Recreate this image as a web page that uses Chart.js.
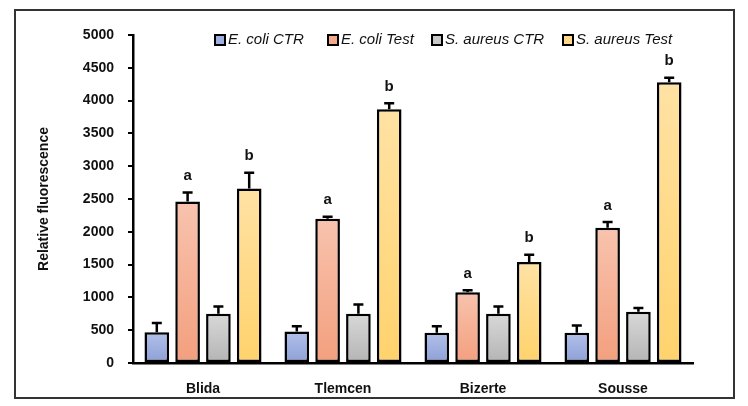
<!DOCTYPE html>
<html>
<head>
<meta charset="utf-8">
<script src="https://cdn.jsdelivr.net/npm/chart.js@4.4.1/dist/chart.umd.min.js"></script>
<style>
  html, body { margin: 0; padding: 0; background: #fff; }
  #wrap { width: 748px; height: 406px; position: relative; }
</style>
</head>
<body>
<div id="wrap"><canvas id="chart"></canvas></div>
<script>
// data
const categories = ['Blida', 'Tlemcen', 'Bizerte', 'Sousse'];
const ecoliCtr = [470, 480, 460, 460];
const ecoliTest = [2460, 2200, 1080, 2060];
const saureusCtr = [750, 750, 750, 780];
const saureusTest = [2660, 3870, 1540, 4280];
const ecoliCtrErr = [140, 80, 100, 110];
const ecoliTestErr = [140, 30, 30, 90];
const saureusCtrErr = [110, 140, 110, 60];
const saureusTestErr = [240, 90, 110, 70];
const yTicks = [0, 500, 1000, 1500, 2000, 2500, 3000, 3500, 4000, 4500, 5000];

const FONT = "'Liberation Sans', Arial, sans-serif";

// per-bar vertical gradient, light at the top
function barGradient(top, bottom) {
    return function (ctx) {
        const chart = ctx.chart;
        const ys = chart.scales.y;
        if (!ys || ctx.type !== 'data') return bottom;
        const y0 = ys.getPixelForValue(0);
        const y1 = ys.getPixelForValue(ctx.raw);
        if (!isFinite(y0) || !isFinite(y1) || y0 === y1) return bottom;
        const g = chart.ctx.createLinearGradient(0, y1, 0, y0);
        g.addColorStop(0, top);
        g.addColorStop(1, bottom);
        return g;
    };
}

const errorBars = {
    id: 'errorBars',
    afterDatasetsDraw(chart) {
        const ctx = chart.ctx;
        const ys = chart.scales.y;
        chart.data.datasets.forEach((ds, i) => {
            const meta = chart.getDatasetMeta(i);
            meta.data.forEach((bar, j) => {
                const top = ys.getPixelForValue(ds.data[j] + ds.errors[j]);
                ctx.save();
                ctx.strokeStyle = '#000';
                ctx.lineWidth = 2.5;
                ctx.beginPath();
                ctx.moveTo(bar.x, bar.y);
                ctx.lineTo(bar.x, top);
                ctx.moveTo(bar.x - 5, top);
                ctx.lineTo(bar.x + 5, top);
                ctx.stroke();
                if (ds.letter) {
                    ctx.fillStyle = '#111';
                    ctx.font = 'bold 15px ' + FONT;
                    ctx.textAlign = 'center';
                    ctx.textBaseline = 'bottom';
                    ctx.fillText(ds.letter, bar.x, top - 9);
                }
                ctx.restore();
            });
        });
    }
};

const legendInside = {
    id: 'legendInside',
    afterDraw(chart) {
        const ctx = chart.ctx;
        const starts = [215, 328, 432, 563];
        ctx.save();
        ctx.font = 'italic 15px ' + FONT;
        ctx.textBaseline = 'middle';
        chart.data.datasets.forEach((ds, i) => {
            const x = starts[i];
            const y = 40;
            ctx.fillStyle = ds.legendColor;
            ctx.fillRect(x, y - 5, 10, 10);
            ctx.strokeStyle = '#000';
            ctx.lineWidth = 2;
            ctx.strokeRect(x, y - 5, 10, 10);
            ctx.fillStyle = '#111';
            ctx.fillText(ds.label, x + 13, y);
        });
        ctx.restore();
    }
};

const frame = {
    id: 'frame',
    afterDraw(chart) {
        const ctx = chart.ctx;
        ctx.save();
        ctx.strokeStyle = '#333';
        ctx.lineWidth = 2;
        ctx.strokeRect(15, 10, 719, 388);
        ctx.restore();
    }
};

new Chart(document.getElementById('chart'), {
    type: 'bar',
    data: {
        labels: categories,
        datasets: [
            {
                label: 'E. coli CTR',
                data: ecoliCtr,
                errors: ecoliCtrErr,
                legendColor: '#9fb0e0',
                backgroundColor: barGradient('#b2c0ea', '#8c9fd6')
            },
            {
                label: 'E. coli Test',
                data: ecoliTest,
                errors: ecoliTestErr,
                letter: 'a',
                legendColor: '#f5a88a',
                backgroundColor: barGradient('#f8c3ae', '#f39f7e')
            },
            {
                label: 'S. aureus CTR',
                data: saureusCtr,
                errors: saureusCtrErr,
                legendColor: '#c8c8c8',
                backgroundColor: barGradient('#d8d8d8', '#b4b4b4')
            },
            {
                label: 'S. aureus Test',
                data: saureusTest,
                errors: saureusTestErr,
                letter: 'b',
                legendColor: '#ffd98a',
                backgroundColor: barGradient('#ffe2a4', '#ffd26c')
            }
        ]
    },
    options: {
        responsive: true,
        maintainAspectRatio: false,
        animation: false,
        layout: { padding: { left: 36, right: 55, top: 35, bottom: 10 } },
        datasets: {
            bar: {
                borderColor: '#000',
                borderWidth: 2.5,
                borderSkipped: false,
                categoryPercentage: 0.88,
                barPercentage: 0.8
            }
        },
        plugins: {
            legend: { display: false },
            tooltip: { enabled: false }
        },
        scales: {
            x: {
                grid: { display: false },
                border: { color: '#000', width: 2.5 },
                ticks: {
                    color: '#111',
                    padding: 10,
                    font: { family: FONT, size: 14, weight: 'bold' }
                },
                afterFit(s) { s.height = 406 - 363 - 10; }
            },
            y: {
                min: 0,
                max: 5000,
                afterBuildTicks(s) { s.ticks = yTicks.map(v => ({ value: v })); },
                grid: {
                    drawOnChartArea: false,
                    drawTicks: true,
                    tickLength: 5,
                    color: '#000',
                    lineWidth: 2
                },
                border: { color: '#000', width: 2.5 },
                ticks: {
                    color: '#111',
                    padding: 14,
                    font: { family: FONT, size: 14, weight: 'bold' },
                    callback: v => String(v)
                },
                title: {
                    display: true,
                    text: 'Relative fluorescence',
                    color: '#111',
                    padding: { top: 0, bottom: 6 },
                    font: { family: FONT, size: 14, weight: 'bold' }
                },
                afterFit(s) { s.width = 133 - 36; }
            }
        }
    },
    plugins: [errorBars, legendInside, frame]
});
</script>
</body>
</html>
